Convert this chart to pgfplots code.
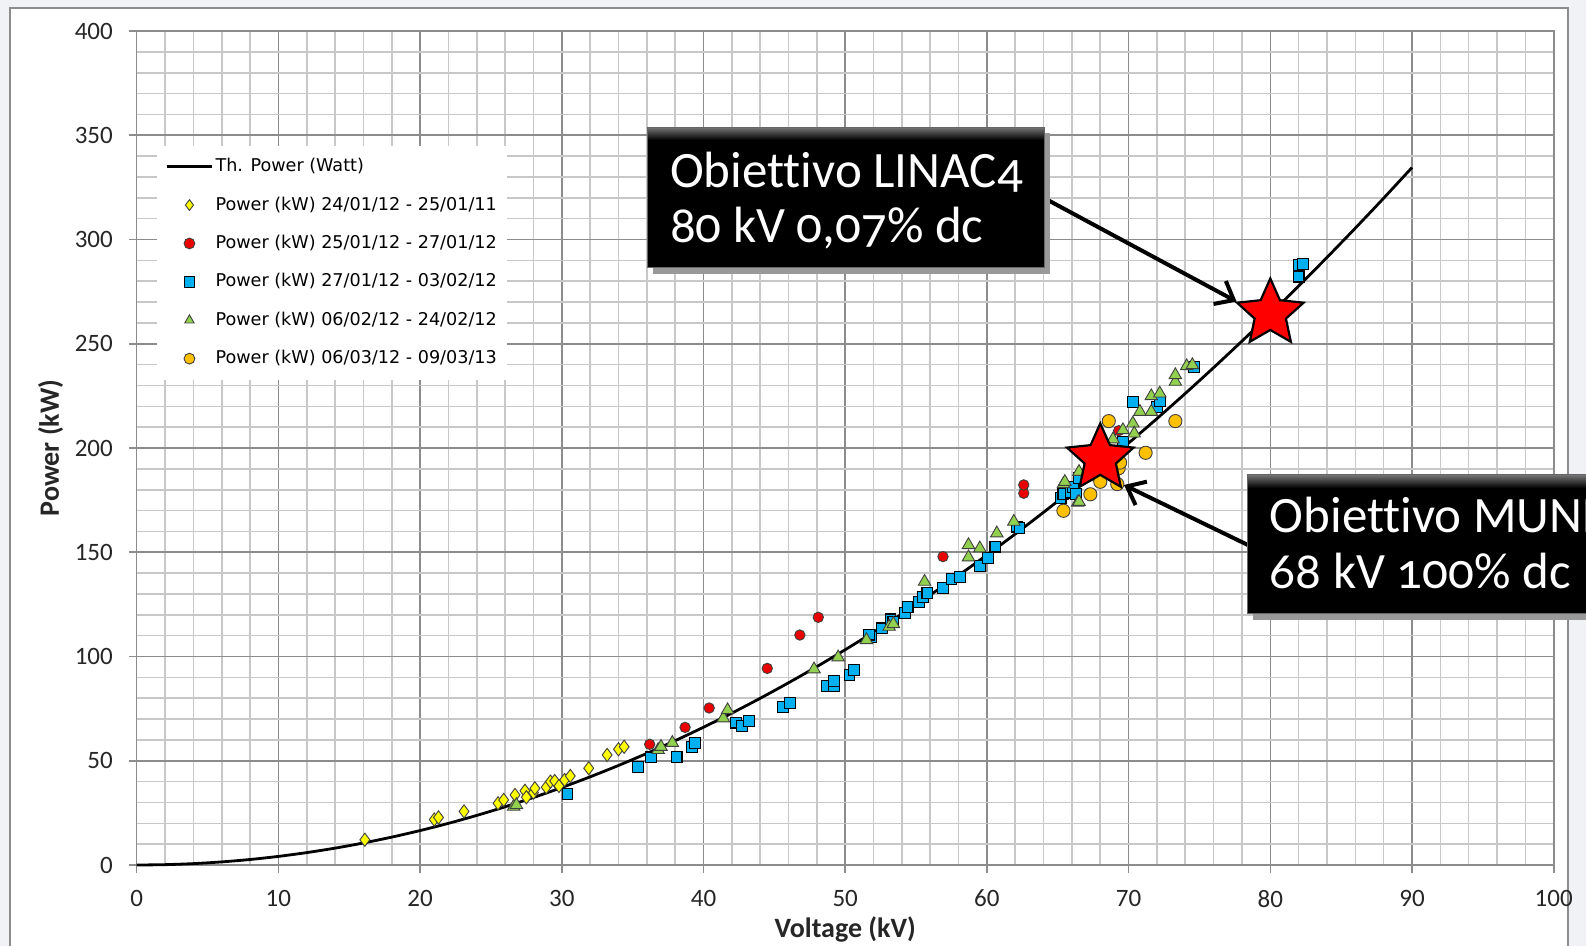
\documentclass[border=0pt]{standalone}
\usepackage{pgfplots}
\pgfplotsset{compat=1.18}
\usepackage{fontspec}
\setmainfont{Carlito}
\newfontfamily\legfont{DejaVu Sans}
\newfontfamily\boxfont[Numbers=OldStyle, Ligatures=NoCommon]{Carlito}
\usetikzlibrary{arrows.meta}

\definecolor{bgc}{RGB}{240,242,245}
\definecolor{majgrid}{RGB}{140,140,140}
\definecolor{mingrid}{RGB}{200,200,200}
\definecolor{ylw}{RGB}{255,255,0}
\definecolor{rd}{RGB}{235,0,0}
\definecolor{blu}{RGB}{0,176,240}
\definecolor{grn}{RGB}{146,208,80}
\definecolor{org}{RGB}{255,192,0}

\pgfdeclareplotmark{fstar}{%
  \pgfpathmoveto{\pgfpointpolar{90}{\pgfplotmarksize}}%
  \pgfpathlineto{\pgfpointpolar{126}{0.47\pgfplotmarksize}}%
  \pgfpathlineto{\pgfpointpolar{162}{\pgfplotmarksize}}%
  \pgfpathlineto{\pgfpointpolar{198}{0.47\pgfplotmarksize}}%
  \pgfpathlineto{\pgfpointpolar{234}{\pgfplotmarksize}}%
  \pgfpathlineto{\pgfpointpolar{270}{0.47\pgfplotmarksize}}%
  \pgfpathlineto{\pgfpointpolar{306}{\pgfplotmarksize}}%
  \pgfpathlineto{\pgfpointpolar{342}{0.47\pgfplotmarksize}}%
  \pgfpathlineto{\pgfpointpolar{18}{\pgfplotmarksize}}%
  \pgfpathlineto{\pgfpointpolar{54}{0.47\pgfplotmarksize}}%
  \pgfpathclose
  \pgfusepathqfillstroke}

\pgfplotsset{myleg/.style={legend image code/.code={%
  \draw[mark repeat=2,mark phase=2,##1, mark size=2.7pt] plot coordinates {(0pt,0pt)(11.35pt,0pt)(22.7pt,0pt)};}}}

\begin{document}
\begin{tikzpicture}
\path[use as bounding box] (0,0) rectangle (793pt,-473pt);
\fill[bgc] (0,0) rectangle (793pt,-473pt);
\filldraw[fill=white, draw=black!45, line width=0.6pt] (5pt,-4pt) rectangle (784pt,-490pt);
\begin{axis}[
  at={(68.35pt,-432.5pt)}, anchor=south west,
  scale only axis, width=708.5pt, height=417pt,
  xmin=0, xmax=100, ymin=0, ymax=400,
  xtick distance=10, ytick distance=50,
  minor x tick num=4, minor y tick num=4,
  grid=both,
  major grid style={majgrid, line width=0.8pt},
  minor grid style={mingrid, line width=0.8pt},
  axis line style={majgrid, line width=0.8pt},
  tick align=outside, tick pos=left,
  major tick length=4pt, minor tick length=0pt,
  tick style={majgrid, line width=0.8pt},
  /pgf/number format/assume math mode=true,
  ticklabel style={font=\fontsize{12.5}{13}\selectfont, text=black!85},
  xticklabel style={yshift=-5pt},
  yticklabel style={xshift=-4.4pt},
  xlabel={Voltage (kV)}, ylabel={Power (kW)},
  label style={font=\fontsize{14}{16}\selectfont\bfseries, text=black!85},
  xlabel style={at={(axis description cs:0.5,0)}, anchor=center, yshift=-32pt},
  ylabel style={at={(axis description cs:0,0.5)}, anchor=center, yshift=43pt},
  legend style={at={(axis description cs:0.0143,0.863)}, anchor=north west,
    draw=none, fill=white, font=\legfont\fontsize{8.8}{10}\selectfont,
    inner xsep=4pt, inner ysep=5pt, row sep=8.2pt,
    nodes={inner sep=1pt, text height=7pt, text depth=2pt},
    cells={anchor=west}},
  legend cell align=left,
  clip=false,
]
\addplot[black, line width=1.4pt, smooth, myleg] coordinates {
(0,0)(2,0.165)(4,0.66)(6,1.49)(8,2.64)(10,4.13)(12,5.95)(14,8.09)(16,10.57)(18,13.38)
(20,16.52)(22,19.99)(24,23.79)(26,27.92)(28,32.38)(30,37.17)(32,42.29)(34,47.74)(36,53.52)
(38,59.64)(40,66.08)(42,72.85)(44,79.96)(46,87.39)(48,95.16)(50,103.25)(52,111.68)
(54,120.43)(56,129.52)(58,138.93)(60,148.68)(62,158.76)(64,169.17)(66,179.9)(68,190.97)
(70,202.37)(72,214.1)(74,226.16)(76,238.55)(78,251.27)(80,264.32)(82,277.7)(84,291.41)
(86,305.45)(88,319.82)(90,334.53)};
\addlegendentry{Th. Power (Watt)}

\addplot[only marks, mark=diamond*, mark size=3.3pt, mark options={fill=ylw, draw=black!75, line width=0.45pt}, myleg] coordinates {
(16.1,12.1)(21.0,21.8)(21.3,22.8)(23.1,25.7)(25.5,29.6)(25.9,31.2)(26.7,33.6)(27.4,35.6)
(27.5,32.5)(28.0,34.7)(28.1,36.8)(28.9,37.3)(29.2,40.0)(29.5,40.3)(29.8,37.9)(30.2,40.8)
(30.6,42.7)(31.9,46.4)(33.2,52.8)(34.0,55.5)(34.4,56.7)};
\addlegendentry{Power (kW) 24/01/12 - 25/01/11}

\addplot[only marks, mark=*, mark size=2.6pt, mark options={fill=rd, draw=black!75, line width=0.45pt}, myleg] coordinates {
(36.2,57.9)(38.7,66.0)(40.4,75.3)(44.5,94.3)(46.8,110.3)(48.1,118.8)(56.9,147.9)
(62.6,178.3)(62.6,182.3)(69.3,208.3)};
\addlegendentry{Power (kW) 25/01/12 - 27/01/12}

\addplot[only marks, mark=square*, mark size=2.7pt, mark options={fill=blu, draw=black, line width=0.55pt}, myleg] coordinates {
(30.4,33.9)(35.4,46.9)(36.3,51.6)(38.1,51.7)(39.2,56.7)(39.4,58.6)(42.3,68.3)(42.7,66.8)
(43.2,69.2)(45.6,75.9)(46.1,77.6)(48.7,85.9)(49.2,85.9)(49.2,88.2)(50.3,91.1)(50.6,93.5)
(51.8,109.5)(51.7,110.5)(52.6,113.5)(53.2,117.8)(53.4,116.5)(54.2,121.0)(54.4,123.6)
(55.2,126.3)(55.5,128.4)(55.8,130.3)(56.9,132.7)(57.5,137.2)(58.1,138.0)(59.5,143.4)
(60.1,147.1)(60.6,152.7)(62.1,162.3)(62.3,161.6)(65.2,175.9)(65.4,177.9)(65.9,178.6)
(66.1,181.2)(66.3,178.0)(66.5,185.5)(69.6,203.0)(70.3,222.2)(72.0,219.8)(72.2,222.5)
(74.6,239.0)(82.0,282.2)(82.0,287.8)(82.3,288.3)};
\addlegendentry{Power (kW) 27/01/12 - 03/02/12}

\addplot[only marks, mark=triangle*, mark size=3.6pt, mark options={fill=grn, draw=black!75, line width=0.45pt}, myleg] coordinates {
(26.6,28.0)(26.8,28.8)(36.8,55.2)(37.0,56.7)(37.8,58.6)(41.4,70.4)(41.7,74.3)(47.8,93.9)
(49.5,99.6)(51.5,107.9)(53.1,114.3)(53.4,115.6)(55.6,135.9)(58.7,147.6)(58.7,153.5)
(59.5,151.9)(60.7,159.1)(61.9,164.7)(65.4,182.7)(65.5,183.8)(66.4,173.8)(66.5,174.2)
(66.5,188.6)(67.2,186.0)(68.9,204.2)(69.6,208.6)(70.3,211.8)(70.4,207.0)(70.8,217.4)
(71.6,217.4)(71.6,224.9)(72.2,226.2)(73.3,231.8)(73.3,235.0)(74.1,239.3)(74.5,239.8)};
\addlegendentry{Power (kW) 06/02/12 - 24/02/12}

\addplot[only marks, mark=*, mark size=3.3pt, mark options={fill=org, draw=black!75, line width=0.45pt}, myleg] coordinates {
(65.4,169.9)(67.3,177.8)(68.0,183.8)(68.6,212.9)(69.2,182.7)(69.3,190.3)(69.4,193.0)
(71.2,197.7)(73.3,212.9)};
\addlegendentry{Power (kW) 06/03/12 - 09/03/13}

\addplot[only marks, mark=fstar, mark size=17.5pt, mark options={fill=red, draw=black, line width=1.1pt}, forget plot] coordinates {
(80,264.5)(68,195)};
\end{axis}

% annotations
\draw[line width=2pt, -{Straight Barb[length=8pt,width=13pt]}] (522pt,-99pt) -- (618.3pt,-150.8pt);
\draw[line width=2pt, -{Straight Barb[length=8pt,width=13pt]}] (625pt,-273pt) -- (562pt,-242.5pt);

\fill[black!40] (326.5pt,-66.5pt) rectangle (525pt,-137pt);
\fill[black] (323.7pt,-63.7pt) rectangle (522pt,-134pt);
\shade[top color=black!55, bottom color=black] (323.7pt,-63.7pt) rectangle (522pt,-70pt);
\draw[black!60, line width=0.5pt] (323.7pt,-63.7pt) rectangle (522pt,-134pt);
\node[anchor=base west, inner sep=0pt, text=white, font=\boxfont\fontsize{25.5}{28}\selectfont] at (334.8pt,-93.6pt) {Obiettivo LINAC4};
\node[anchor=base west, inner sep=0pt, text=white, font=\boxfont\fontsize{25.5}{28}\selectfont] at (334.8pt,-121.4pt) {80 kV 0,07\% dc};

\fill[black!40] (626.5pt,-240.5pt) rectangle (830pt,-310pt);
\fill[black] (623.6pt,-237.5pt) rectangle (830pt,-307pt);
\shade[top color=black!55, bottom color=black] (623.6pt,-237.5pt) rectangle (830pt,-244pt);
\draw[black!60, line width=0.5pt] (623.6pt,-237.5pt) rectangle (830pt,-307pt);
\node[anchor=base west, inner sep=0pt, text=white, font=\boxfont\fontsize{25.5}{28}\selectfont] at (634.7pt,-266.5pt) {Obiettivo MUNES};
\node[anchor=base west, inner sep=0pt, text=white, font=\boxfont\fontsize{25.5}{28}\selectfont] at (634.7pt,-294.3pt) {68 kV 100\% dc};
\end{tikzpicture}
\end{document}
